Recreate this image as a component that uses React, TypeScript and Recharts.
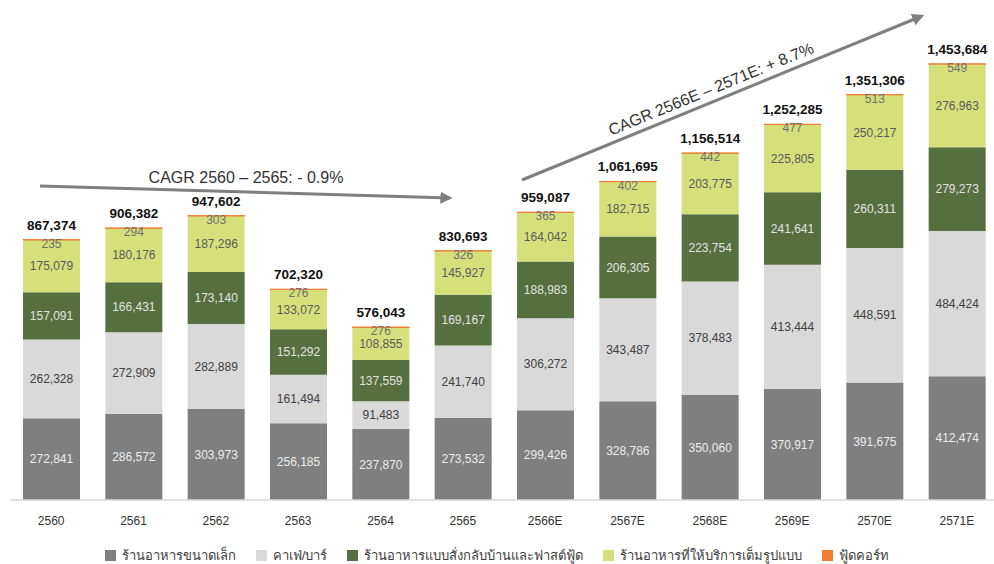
import { BarChart, Bar, XAxis, YAxis, LabelList } from 'recharts';

const YEARS = ['2560', '2561', '2562', '2563', '2564', '2565', '2566E', '2567E', '2568E', '2569E', '2570E', '2571E'];
const SMALL = [272841, 286572, 303973, 256185, 237870, 273532, 299426, 328786, 350060, 370917, 391675, 412474];
const CAFE = [262328, 272909, 282889, 161494, 91483, 241740, 306272, 343487, 378483, 413444, 448591, 484424];
const DELIVERY = [157091, 166431, 173140, 151292, 137559, 169167, 188983, 206305, 223754, 241641, 260311, 279273];
const FULL = [175079, 180176, 187296, 133072, 108855, 145927, 164042, 182715, 203775, 225805, 250217, 276963];
const FOODCOURT = [235, 294, 303, 276, 276, 326, 365, 402, 442, 477, 513, 549];
const TOTALS = [867374, 906382, 947602, 702320, 576043, 830693, 959087, 1061695, 1156514, 1252285, 1351306, 1453684];

const SERIES = [
  { key: 'small', name: 'ร้านอาหารขนาดเล็ก', color: '#7f7f7f', text: '#ececec' },
  { key: 'cafe', name: 'คาเฟ่/บาร์', color: '#d9d9d9', text: '#404040' },
  { key: 'delivery', name: 'ร้านอาหารแบบสั่งกลับบ้านและฟาสต์ฟู้ด', color: '#566f3e', text: '#e2e2e2' },
  { key: 'full', name: 'ร้านอาหารที่ให้บริการเต็มรูปแบบ', color: '#d5e07b', text: '#5a5a5a' },
  { key: 'foodcourt', name: 'ฟู้ดคอร์ท', color: '#ef7d31', text: '#6f6f6f' },
];

const data = YEARS.map((year, i) => ({
  year,
  small: SMALL[i],
  cafe: CAFE[i],
  delivery: DELIVERY[i],
  full: FULL[i],
  foodcourt: FOODCOURT[i],
  total: TOTALS[i],
}));

const FONT = '"Liberation Sans", Arial, sans-serif';
const fmt = (v: any) => Number(v).toLocaleString('en-US');

function SmallTopLabel(props: any) {
  const { x, y, width, value } = props;
  return (
    <text x={x + width / 2} y={y + 5} textAnchor="middle" dominantBaseline="middle" fontSize={12} fill="#6f6f6f" fontFamily={FONT}>
      {fmt(value)}
    </text>
  );
}

function CustomLegend() {
  return (
    <div style={{ display: 'flex', justifyContent: 'center', gap: 20, fontFamily: FONT, fontSize: 13, color: '#404040' }}>
      {SERIES.map((s) => (
        <span key={s.key} style={{ display: 'flex', alignItems: 'center', gap: 6 }}>
          <span style={{ width: 11, height: 11, background: s.color, display: 'inline-block' }} />
          {s.name}
        </span>
      ))}
    </div>
  );
}

export default function App() {
  return (
    <div style={{ position: 'absolute', left: 0, top: 0, width: 994, height: 564, overflow: 'hidden', background: '#fff' }}>
      <BarChart
        width={1000}
        height={564}
        data={data}
        margin={{ top: 20, right: 2, left: 10, bottom: 34 }}
        style={{ fontFamily: FONT }}
      >
        <XAxis
          dataKey="year"
          axisLine={{ stroke: '#d9d9d9', strokeWidth: 1.5 }}
          tickLine={false}
          tick={{ fill: '#333', fontSize: 12 }}
          tickMargin={10}
          height={30}
        />
        <YAxis hide domain={[0, 1600000]} />
        {SERIES.map((s) => (
          <Bar
            key={s.key}
            dataKey={s.key}
            name={s.name}
            stackId="a"
            fill={s.color}
            stroke={s.key === 'foodcourt' ? s.color : undefined}
            strokeWidth={s.key === 'foodcourt' ? 1 : 0}
            barSize={57}
            isAnimationActive={false}
          >
            {s.key === 'foodcourt' ? (
              <>
                <LabelList dataKey="foodcourt" content={<SmallTopLabel />} />
                <LabelList
                  dataKey="total"
                  position="top"
                  offset={10}
                  formatter={fmt}
                  style={{ fontSize: 13.5, fontWeight: 700, fill: '#111' }}
                />
              </>
            ) : (
              <LabelList dataKey={s.key} position="center" formatter={fmt} style={{ fontSize: 12, fill: s.text }} />
            )}
          </Bar>
        ))}
      </BarChart>
      <div style={{ position: 'absolute', left: 0, top: 545, width: 994 }}>
        <CustomLegend />
      </div>
      <svg width={994} height={564} style={{ position: 'absolute', left: 0, top: 0, pointerEvents: 'none' }}>
        <defs>
          <marker id="ah" viewBox="0 0 10 10" refX="8" refY="5" markerWidth="4" markerHeight="4" orient="auto">
            <path d="M0,0 L10,5 L0,10 z" fill="#7f7f7f" />
          </marker>
        </defs>
        <line x1={40} y1={186} x2={450} y2={198} stroke="#7f7f7f" strokeWidth={3} markerEnd="url(#ah)" />
        <text x={246} y={183} textAnchor="middle" fontSize={16} fill="#333" fontFamily={FONT}>
          CAGR 2560 – 2565: - 0.9%
        </text>
        <line x1={522} y1={180} x2={922} y2={16} stroke="#7f7f7f" strokeWidth={3} markerEnd="url(#ah)" />
        <text
          x={713}
          y={94}
          textAnchor="middle"
          fontSize={16}
          fill="#333"
          fontFamily={FONT}
          transform="rotate(-22.3 713 94)"
        >
          CAGR 2566E – 2571E: + 8.7%
        </text>
      </svg>
    </div>
  );
}
